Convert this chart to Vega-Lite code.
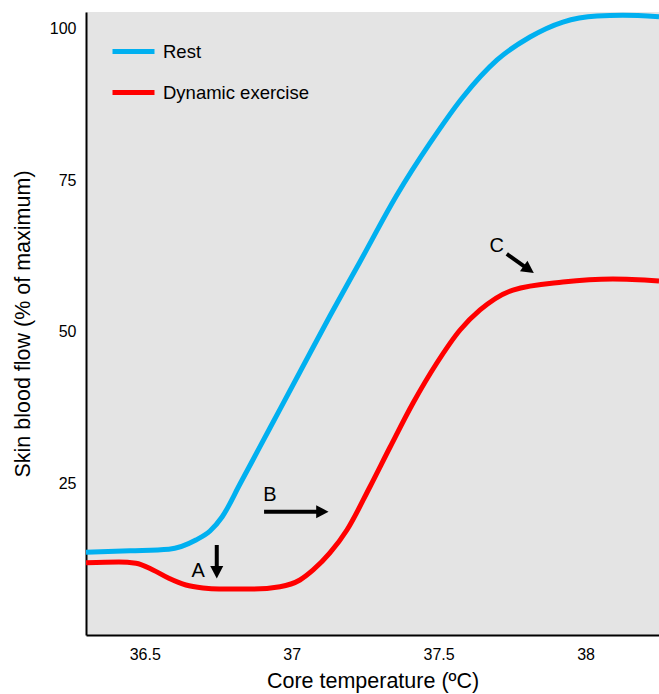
{
  "$schema": "https://vega.github.io/schema/vega-lite/v6.json",
  "width": 573,
  "height": 623,
  "autosize": {"type": "none"},
  "padding": {"left": 86, "top": 12, "right": 0, "bottom": 59},
  "background": "white",
  "config": {
    "view": {"fill": "#e4e4e4", "stroke": null},
    "font": "Liberation Sans",
    "axis": {
      "domainColor": "black",
      "domainWidth": 2,
      "ticks": false,
      "tickSize": 0,
      "grid": false,
      "labelFont": "Liberation Sans",
      "labelFontSize": 16,
      "labelColor": "black",
      "titleFont": "Liberation Sans",
      "titleFontSize": 21.5,
      "titleFontWeight": "normal",
      "titleColor": "black"
    }
  },
  "datasets": {
    "curves": [
      {"series": "Rest", "temp": 36.300, "flow": 13.63},
      {"series": "Rest", "temp": 36.450, "flow": 13.88},
      {"series": "Rest", "temp": 36.582, "flow": 14.13},
      {"series": "Rest", "temp": 36.674, "flow": 15.66},
      {"series": "Rest", "temp": 36.722, "flow": 17.14},
      {"series": "Rest", "temp": 36.763, "flow": 19.45},
      {"series": "Rest", "temp": 36.824, "flow": 24.89},
      {"series": "Rest", "temp": 36.926, "flow": 34.12},
      {"series": "Rest", "temp": 37.028, "flow": 43.35},
      {"series": "Rest", "temp": 37.130, "flow": 52.59},
      {"series": "Rest", "temp": 37.232, "flow": 61.49},
      {"series": "Rest", "temp": 37.358, "flow": 72.53},
      {"series": "Rest", "temp": 37.471, "flow": 81.11},
      {"series": "Rest", "temp": 37.583, "flow": 88.69},
      {"series": "Rest", "temp": 37.699, "flow": 94.79},
      {"series": "Rest", "temp": 37.811, "flow": 98.58},
      {"series": "Rest", "temp": 37.923, "flow": 101.05},
      {"series": "Rest", "temp": 38.039, "flow": 102.04},
      {"series": "Rest", "temp": 38.127, "flow": 102.16},
      {"series": "Rest", "temp": 38.250, "flow": 101.93},
      {"series": "Dynamic exercise", "temp": 36.300, "flow": 11.92},
      {"series": "Dynamic exercise", "temp": 36.412, "flow": 12.03},
      {"series": "Dynamic exercise", "temp": 36.470, "flow": 11.82},
      {"series": "Dynamic exercise", "temp": 36.528, "flow": 10.72},
      {"series": "Dynamic exercise", "temp": 36.582, "flow": 9.35},
      {"series": "Dynamic exercise", "temp": 36.640, "flow": 8.24},
      {"series": "Dynamic exercise", "temp": 36.698, "flow": 7.75},
      {"series": "Dynamic exercise", "temp": 36.753, "flow": 7.58},
      {"series": "Dynamic exercise", "temp": 36.868, "flow": 7.58},
      {"series": "Dynamic exercise", "temp": 36.960, "flow": 7.96},
      {"series": "Dynamic exercise", "temp": 37.028, "flow": 9.07},
      {"series": "Dynamic exercise", "temp": 37.073, "flow": 10.72},
      {"series": "Dynamic exercise", "temp": 37.130, "flow": 13.52},
      {"series": "Dynamic exercise", "temp": 37.188, "flow": 17.31},
      {"series": "Dynamic exercise", "temp": 37.266, "flow": 24.40},
      {"series": "Dynamic exercise", "temp": 37.335, "flow": 30.99},
      {"series": "Dynamic exercise", "temp": 37.413, "flow": 38.24},
      {"series": "Dynamic exercise", "temp": 37.494, "flow": 44.84},
      {"series": "Dynamic exercise", "temp": 37.573, "flow": 50.28},
      {"series": "Dynamic exercise", "temp": 37.641, "flow": 53.58},
      {"series": "Dynamic exercise", "temp": 37.753, "flow": 56.87},
      {"series": "Dynamic exercise", "temp": 37.923, "flow": 58.19},
      {"series": "Dynamic exercise", "temp": 38.093, "flow": 58.69},
      {"series": "Dynamic exercise", "temp": 38.250, "flow": 58.36}
    ],
    "labels": [
      {"label": "A", "temp": 36.682, "flow": 10.60},
      {"label": "B", "temp": 36.926, "flow": 23.08},
      {"label": "C", "temp": 37.698, "flow": 64.13}
    ],
    "arrows": [
      {"arrow": "A", "temp": 36.745, "flow": 14.84, "temp2": 36.745, "flow2": 11.04},
      {"arrow": "B", "temp": 36.906, "flow": 20.33, "temp2": 37.090, "flow2": 20.33},
      {"arrow": "C", "temp": 37.732, "flow": 62.81, "temp2": 37.795, "flow2": 60.65}
    ]
  },
  "layer": [
    {
      "data": {"name": "curves"},
      "mark": {"type": "line", "strokeWidth": 5, "interpolate": "monotone"},
      "encoding": {
        "x": {
          "field": "temp", "type": "quantitative",
          "scale": {"domain": [36.3, 38.25], "nice": false, "zero": false},
          "axis": {"values": [36.5, 37, 37.5, 38], "title": "Core temperature (ºC)", "labelPadding": 11, "titlePadding": 8, "format": "~g"}
        },
        "y": {
          "field": "flow", "type": "quantitative",
          "scale": {"domain": [0, 102.7], "nice": false, "zero": true},
          "axis": {"values": [25, 50, 75, 100], "title": "Skin blood flow (% of maximum)", "labelPadding": 10, "titlePadding": 15}
        },
        "color": {
          "field": "series", "type": "nominal",
          "scale": {"domain": ["Rest", "Dynamic exercise"], "range": ["#00b0f0", "#ff0000"]},
          "legend": {
            "title": null,
            "orient": "none",
            "legendX": 24,
            "legendY": 16,
            "symbolType": "stroke",
            "symbolSize": 1764,
            "symbolStrokeWidth": 5,
            "labelFontSize": 18.5,
            "labelFont": "Liberation Sans",
            "labelColor": "black",
            "labelOffset": 6,
            "padding": 0,
            "rowPadding": 7
          }
        }
      }
    },
    {
      "data": {"name": "labels"},
      "mark": {"type": "text", "fontSize": 20, "font": "Liberation Sans", "color": "black", "align": "center", "baseline": "middle"},
      "encoding": {
        "x": {"field": "temp", "type": "quantitative", "title": "Core temperature (ºC)"},
        "y": {"field": "flow", "type": "quantitative", "title": "Skin blood flow (% of maximum)"},
        "text": {"field": "label"}
      }
    },
    {
      "data": {"name": "arrows"},
      "mark": {"type": "rule", "strokeWidth": 4, "color": "black"},
      "encoding": {
        "x": {"field": "temp", "type": "quantitative", "title": "Core temperature (ºC)"},
        "y": {"field": "flow", "type": "quantitative", "title": "Skin blood flow (% of maximum)"},
        "x2": {"field": "temp2"},
        "y2": {"field": "flow2"}
      }
    },
    {
      "data": {"name": "arrows"},
      "transform": [{"filter": "datum.arrow === 'A'"}],
      "mark": {"type": "point", "shape": "M-0.3,-1L1.6,0L-0.3,1Z", "size": 169, "filled": true, "color": "black", "opacity": 1, "strokeWidth": 0, "angle": 90},
      "encoding": {
        "x": {"field": "temp2", "type": "quantitative", "title": "Core temperature (ºC)"},
        "y": {"field": "flow2", "type": "quantitative", "title": "Skin blood flow (% of maximum)"}
      }
    },
    {
      "data": {"name": "arrows"},
      "transform": [{"filter": "datum.arrow === 'B'"}],
      "mark": {"type": "point", "shape": "M-0.3,-1L1.6,0L-0.3,1Z", "size": 169, "filled": true, "color": "black", "opacity": 1, "strokeWidth": 0, "angle": 0},
      "encoding": {
        "x": {"field": "temp2", "type": "quantitative", "title": "Core temperature (ºC)"},
        "y": {"field": "flow2", "type": "quantitative", "title": "Skin blood flow (% of maximum)"}
      }
    },
    {
      "data": {"name": "arrows"},
      "transform": [{"filter": "datum.arrow === 'C'"}],
      "mark": {"type": "point", "shape": "M-0.3,-1L1.6,0L-0.3,1Z", "size": 169, "filled": true, "color": "black", "opacity": 1, "strokeWidth": 0, "angle": 35},
      "encoding": {
        "x": {"field": "temp2", "type": "quantitative", "title": "Core temperature (ºC)"},
        "y": {"field": "flow2", "type": "quantitative", "title": "Skin blood flow (% of maximum)"}
      }
    }
  ]
}
